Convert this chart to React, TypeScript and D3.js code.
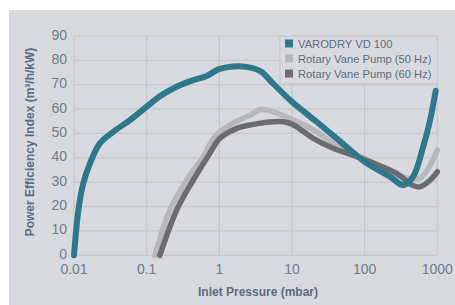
import React from "react";
import * as d3 from "d3";

const xTicks = [0.01, 0.1, 1, 10, 100, 1000];
const xTickLabels = ["0.01", "0.1", "1", "10", "100", "1000"];
const yTicks = [0, 10, 20, 30, 40, 50, 60, 70, 80, 90];

const seriesNames = ["VARODRY VD 100", "Rotary Vane Pump (50 Hz)", "Rotary Vane Pump (60 Hz)"];
const seriesColors = ["#2e788c", "#b7b8bc", "#6c6c70"];

const varodryP = [0.01, 0.0115, 0.0134, 0.0166, 0.0228, 0.0348, 0.0589, 0.1, 0.152, 0.259, 0.438, 0.67, 0.97, 1.82, 2.8, 3.8, 5.2, 10, 21.8, 41, 100, 223, 340, 466, 640, 796, 950];
const varodryV = [0, 18.6, 29.5, 37.7, 46, 50.7, 55.5, 61, 65.3, 69.2, 71.9, 73.6, 76.3, 77.6, 76.9, 75.3, 71.2, 63, 54.8, 48, 38.4, 32.3, 28.8, 32.3, 44.6, 55.5, 67.5];

const rv50P = [0.13, 0.209, 0.356, 0.6, 0.87, 1.4, 2.63, 3.8, 6, 10.5, 21.8, 46, 100, 276, 575, 1000];
const rv50V = [0, 18.6, 30.9, 40.5, 48.7, 53.5, 57.5, 59.8, 58.5, 55.5, 50.7, 43.9, 39.8, 33, 31.6, 43.2];

const rv60P = [0.152, 0.259, 0.438, 0.74, 1.02, 1.74, 2.63, 7.6, 10.5, 19.6, 37, 78, 276, 450, 575, 800, 1000];
const rv60V = [0, 18.6, 30.9, 41.9, 48, 52.1, 53.5, 54.8, 53.5, 48, 43.9, 40.5, 33.6, 28.8, 28.1, 30.9, 34.3];

const allP = [varodryP, rv50P, rv60P];
const allV = [varodryV, rv50V, rv60V];

export default function App() {
  const W = 455, H = 305;
  const x = d3.scaleLog().domain([0.01, 1000]).range([74, 437.3]);
  const y = d3.scaleLinear().domain([0, 90]).range([255.3, 36]);
  const line = d3
    .line<[number, number]>()
    .x((d) => x(d[0]))
    .y((d) => y(d[1]))
    .curve(d3.curveCatmullRom.alpha(0.5));
  const grid = "#c6c7cc";
  const tickColor = "#6e7d8c";
  const titleColor = "#5b6c7e";
  const font = "Liberation Sans, Arial, Helvetica, sans-serif";
  const widths = [6, 5.5, 5.5];
  const order = [1, 2, 0];
  return (
    <svg width={W} height={H} style={{ position: "absolute", left: 0, top: 0 }} fontFamily={font}>
      <rect x={0} y={0} width={W} height={H} fill="#ffffff" />
      <rect x={9} y={10} width={W - 9} height={H - 10} fill="#d9dadf" />
      {yTicks.map((t) => (
        <line key={"yg" + t} x1={74} x2={437.3} y1={y(t)} y2={y(t)} stroke={grid} strokeWidth={1.2} />
      ))}
      {xTicks.map((t) => (
        <line key={"xg" + t} x1={x(t)} x2={x(t)} y1={y(0)} y2={y(90)} stroke={grid} strokeWidth={1.2} />
      ))}
      {yTicks.map((t) => (
        <text key={"yt" + t} x={67} y={y(t) + 3.5} textAnchor="end" fontSize={14} fill={tickColor}>
          {t}
        </text>
      ))}
      {xTicks.map((t, i) => (
        <text key={"xt" + t} x={x(t)} y={274} textAnchor="middle" fontSize={14} fill={tickColor}>
          {xTickLabels[i]}
        </text>
      ))}
      <text x={258} y={296} textAnchor="middle" fontSize={12} fontWeight="bold" fill={titleColor}>
        Inlet Pressure (mbar)
      </text>
      <text
        transform="translate(34,142) rotate(-90)"
        textAnchor="middle"
        fontSize={12}
        fontWeight="bold"
        fill={titleColor}
      >
        Power Efficiency Index (m³/h/kW)
      </text>
      <rect x={280} y={36} width={157.3} height={48} fill="#d9dadf" stroke={grid} strokeWidth={1.2} />
      {seriesNames.map((n, i) => (
        <g key={"lg" + i}>
          <rect x={285} y={39.5 + i * 15} width={8} height={8} fill={seriesColors[i]} />
          <text x={298} y={47.5 + i * 15} fontSize={11.2} fill={titleColor}>
            {n}
          </text>
        </g>
      ))}
      {order.map((i) => (
        <path
          key={"s" + i}
          d={line(allP[i].map((p, k) => [p, allV[i][k]] as [number, number])) || ""}
          fill="none"
          stroke={seriesColors[i]}
          strokeWidth={widths[i]}
          strokeLinecap="round"
          strokeLinejoin="round"
        />
      ))}
    </svg>
  );
}
